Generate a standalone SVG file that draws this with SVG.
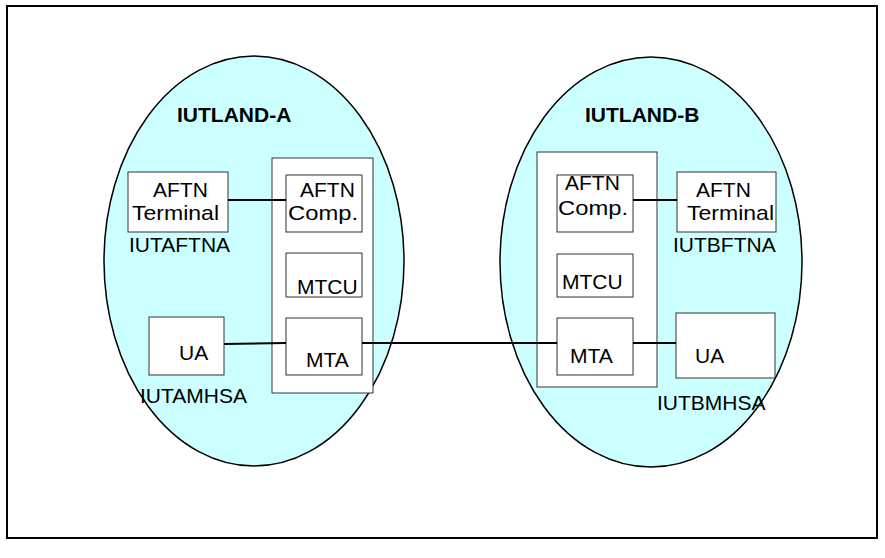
<svg xmlns="http://www.w3.org/2000/svg" width="885" height="558" viewBox="0 0 885 558">
<style>
.frame{fill:#fff;stroke:#000;stroke-width:2}
.land{fill:#ccffff;stroke:#000;stroke-width:1.5}
.box{fill:#fff;stroke:#333;stroke-width:1}
.t{font-family:"Liberation Sans",Arial,sans-serif;font-size:21px;fill:#000}
.b{font-weight:bold}
.con{stroke:#000;stroke-width:2;fill:none}
</style>
<rect class="frame" x="7" y="6" width="870" height="532"/>
<g id="iutland-a">
<ellipse class="land" cx="254" cy="261" rx="150" ry="205"/>
<text class="t b" x="177" y="122">IUTLAND-A</text>
</g>
<g id="iutland-b">
<ellipse class="land" cx="651" cy="262" rx="151" ry="205"/>
<text class="t b" x="585" y="122">IUTLAND-B</text>
</g>
<g id="container-a"><rect class="box" x="272" y="158" width="101" height="235"/></g>
<g id="container-b"><rect class="box" x="537" y="152" width="120" height="235"/></g>
<g id="terminal-a">
<rect class="box" x="128" y="172" width="100" height="60"/>
<text class="t" x="153" y="197">AFTN</text>
<text class="t" x="132" y="220" textLength="87" lengthAdjust="spacingAndGlyphs">Terminal</text>
<text class="t" x="129" y="252">IUTAFTNA</text>
</g>
<g id="comp-a">
<rect class="box" x="286" y="175" width="76" height="57"/>
<text class="t" x="300" y="197">AFTN</text>
<text class="t" x="288" y="220" textLength="70" lengthAdjust="spacingAndGlyphs">Comp.</text>
</g>
<g id="mtcu-a">
<rect class="box" x="286" y="253" width="76" height="44"/>
<text class="t" x="297" y="294">MTCU</text>
</g>
<g id="mta-a">
<rect class="box" x="286" y="318" width="76" height="57"/>
<text class="t" x="306" y="367">MTA</text>
</g>
<g id="ua-a">
<rect class="box" x="149" y="317" width="75" height="58"/>
<text class="t" x="179" y="360">UA</text>
<text class="t" x="140" y="403">IUTAMHSA</text>
</g>
<g id="comp-b">
<rect class="box" x="557" y="175" width="76" height="57"/>
<text class="t" x="565" y="190">AFTN</text>
<text class="t" x="558" y="215" textLength="70" lengthAdjust="spacingAndGlyphs">Comp.</text>
</g>
<g id="terminal-b">
<rect class="box" x="677" y="172" width="99" height="60"/>
<text class="t" x="696" y="197">AFTN</text>
<text class="t" x="687" y="220" textLength="87" lengthAdjust="spacingAndGlyphs">Terminal</text>
<text class="t" x="673" y="252">IUTBFTNA</text>
</g>
<g id="mtcu-b">
<rect class="box" x="557" y="254" width="76" height="43"/>
<text class="t" x="562" y="289">MTCU</text>
</g>
<g id="mta-b">
<rect class="box" x="557" y="318" width="76" height="57"/>
<text class="t" x="570" y="363">MTA</text>
</g>
<g id="ua-b">
<rect class="box" x="676" y="313" width="99" height="65"/>
<text class="t" x="695" y="363">UA</text>
<text class="t" x="657" y="410">IUTBMHSA</text>
</g>
<g id="connectors">
<line class="con" x1="228" y1="200" x2="286" y2="200"/>
<line class="con" x1="224" y1="344" x2="286" y2="343"/>
<line class="con" x1="362" y1="343" x2="557" y2="343"/>
<line class="con" x1="633" y1="200" x2="677" y2="200"/>
<line class="con" x1="633" y1="343" x2="676" y2="343"/>
</g>
</svg>
